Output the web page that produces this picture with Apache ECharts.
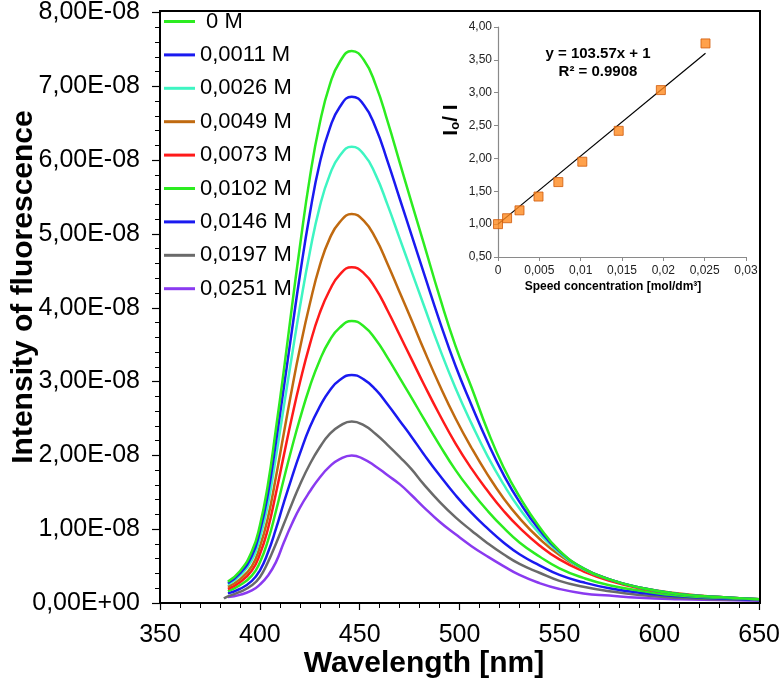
<!DOCTYPE html>
<html>
<head>
<meta charset="utf-8">
<script src="https://cdn.jsdelivr.net/npm/echarts@6/dist/echarts.min.js"></script>
<style>
html,body{margin:0;padding:0;background:#fff;}
#c{width:783px;height:693px;}
</style>
</head>
<body>
<div id="c"></div>
<script>
// ---- Main chart data (intensity in units of 1E-08) ----
const wavelengths = [382, 384, 390, 396, 400, 404, 408, 412, 416, 420, 425, 430, 435, 440, 446, 452, 458, 464, 470, 476, 482, 490, 498, 506, 514, 522, 530, 540, 550, 562, 575, 590, 610, 630, 650];
const seriesNames = [' 0 M', '0,0011 M', '0,0026 M', '0,0049 M', '0,0073 M', '0,0102 M', '0,0146 M', '0,0197 M', '0,0251 M'];
const seriesColors = ['#2cec20', '#1a1af0', '#3ef5c2', '#c06a10', '#ff1a1a', '#2cec20', '#1a1af0', '#6a6a6a', '#8a3af0'];
const c0000 = [null, 0.29, 0.43, 0.70, 1.05, 1.60, 2.35, 3.15, 4.00, 4.82, 5.76, 6.50, 7.02, 7.33, 7.48, 7.36, 7.02, 6.52, 5.97, 5.42, 4.88, 4.15, 3.48, 2.92, 2.34, 1.84, 1.44, 1.03, 0.71, 0.47, 0.32, 0.21, 0.12, 0.08, 0.05];
const c0011 = [null, 0.27, 0.40, 0.64, 0.97, 1.47, 2.17, 2.92, 3.68, 4.43, 5.27, 5.96, 6.43, 6.72, 6.86, 6.75, 6.44, 5.98, 5.48, 4.98, 4.48, 3.82, 3.21, 2.68, 2.18, 1.74, 1.37, 0.99, 0.70, 0.47, 0.32, 0.21, 0.12, 0.08, 0.05];
const c0026 = [null, 0.25, 0.37, 0.58, 0.88, 1.33, 1.97, 2.66, 3.34, 4.00, 4.75, 5.37, 5.80, 6.06, 6.18, 6.08, 5.80, 5.39, 4.94, 4.49, 4.04, 3.45, 2.91, 2.43, 1.99, 1.61, 1.28, 0.94, 0.68, 0.46, 0.32, 0.21, 0.12, 0.08, 0.05];
const c0049 = [null, 0.22, 0.32, 0.50, 0.76, 1.15, 1.70, 2.30, 2.89, 3.44, 4.05, 4.57, 4.94, 5.16, 5.27, 5.18, 4.94, 4.59, 4.21, 3.83, 3.44, 2.95, 2.50, 2.10, 1.74, 1.42, 1.15, 0.87, 0.65, 0.46, 0.32, 0.21, 0.13, 0.08, 0.05];
const c0073 = [null, 0.19, 0.28, 0.44, 0.66, 1.00, 1.48, 2.00, 2.51, 2.98, 3.50, 3.93, 4.24, 4.45, 4.55, 4.47, 4.26, 3.96, 3.63, 3.30, 2.97, 2.55, 2.16, 1.82, 1.52, 1.25, 1.02, 0.78, 0.59, 0.43, 0.30, 0.20, 0.12, 0.08, 0.05];
const c0102 = [null, 0.16, 0.24, 0.37, 0.55, 0.84, 1.24, 1.68, 2.10, 2.49, 2.93, 3.29, 3.56, 3.73, 3.82, 3.75, 3.57, 3.32, 3.05, 2.78, 2.50, 2.14, 1.80, 1.51, 1.25, 1.02, 0.82, 0.63, 0.47, 0.34, 0.24, 0.17, 0.10, 0.07, 0.05];
const c0146 = [null, 0.13, 0.19, 0.30, 0.44, 0.68, 1.00, 1.36, 1.70, 2.02, 2.38, 2.66, 2.88, 3.02, 3.09, 3.03, 2.89, 2.69, 2.47, 2.25, 2.02, 1.73, 1.46, 1.22, 1.01, 0.82, 0.66, 0.51, 0.38, 0.28, 0.20, 0.14, 0.09, 0.06, 0.04];
const c0197 = [0.06, 0.09, 0.15, 0.24, 0.35, 0.55, 0.80, 1.07, 1.34, 1.60, 1.88, 2.11, 2.29, 2.40, 2.46, 2.41, 2.29, 2.14, 1.98, 1.81, 1.61, 1.37, 1.16, 0.98, 0.81, 0.66, 0.53, 0.41, 0.30, 0.22, 0.16, 0.11, 0.07, 0.05, 0.04];
const c0251 = [null, 0.08, 0.11, 0.17, 0.25, 0.37, 0.55, 0.82, 1.07, 1.29, 1.51, 1.70, 1.85, 1.95, 2.00, 1.95, 1.85, 1.73, 1.61, 1.46, 1.30, 1.10, 0.93, 0.77, 0.63, 0.50, 0.38, 0.27, 0.19, 0.13, 0.10, 0.07, 0.05, 0.04, 0.03];
const curves = [c0000, c0011, c0026, c0049, c0073, c0102, c0146, c0197, c0251];

// ---- Inset data (Stern-Volmer) ----
const insetConc = [0, 0.0011, 0.0026, 0.0049, 0.0073, 0.0102, 0.0146, 0.0197, 0.0251];
const insetRatio = [1.00, 1.09, 1.21, 1.42, 1.64, 1.95, 2.42, 3.04, 3.75];
const trendConc = [0, 0.0251];
const trendRatio = [1.00, 3.60];

const FONT = 'Liberation Sans, Arial, sans-serif';
const chart = echarts.init(document.getElementById('c'), null, {renderer: 'canvas'});

const mainSeries = curves.map((arr, i) => ({
  name: seriesNames[i],
  type: 'line',
  xAxisIndex: 0, yAxisIndex: 0,
  data: wavelengths.map((w, k) => [w, arr[k]]),
  smooth: 0.5,
  showSymbol: false,
  symbol: 'none',
  lineStyle: {color: seriesColors[i], width: 2.5},
  itemStyle: {color: seriesColors[i]},
  z: 10 - i
}));

const option = {
  animation: false,
  backgroundColor: '#fff',
  grid: [
    {left: 160, top: 11, width: 600, height: 592},
    {left: 498, top: 27, width: 248, height: 230}
  ],
  legend: {
    left: 164, top: 10.5, orient: 'vertical', padding: 0,
    itemWidth: 31, itemHeight: 3, itemGap: 11.4, icon: 'rect',
    data: seriesNames,
    textStyle: {fontFamily: FONT, fontSize: 22, color: '#000', lineHeight: 22}
  },
  xAxis: [
    {
      type: 'value', gridIndex: 0, min: 350, max: 650, interval: 50,
      axisLine: {lineStyle: {color: '#000', width: 2}},
      axisTick: {show: true, inside: false, length: 7, lineStyle: {color: '#000', width: 1.2}},
      minorTick: {show: true, splitNumber: 5, length: 5, lineStyle: {color: '#000', width: 1}},
      splitLine: {show: false}, minorSplitLine: {show: false},
      axisLabel: {fontFamily: FONT, fontSize: 25, color: '#000', margin: 20}
    },
    {
      type: 'value', gridIndex: 1, min: 0, max: 0.03, interval: 0.005,
      axisLine: {lineStyle: {color: '#8a8a8a', width: 1.2}},
      axisTick: {show: true, length: 4, lineStyle: {color: '#8a8a8a'}},
      splitLine: {show: false},
      axisLabel: {fontFamily: FONT, fontSize: 12, color: '#222', margin: 8,
        formatter: v => v === 0 ? '0' : String(+v.toFixed(3)).replace('.', ',')}
    }
  ],
  yAxis: [
    {
      type: 'value', gridIndex: 0, min: 0, max: 8, interval: 1,
      axisLine: {show: true, lineStyle: {color: '#000', width: 2}},
      axisTick: {show: true, inside: false, length: 8, lineStyle: {color: '#000', width: 1.2}},
      minorTick: {show: true, splitNumber: 5, length: 5, lineStyle: {color: '#000', width: 1}},
      splitLine: {show: false}, minorSplitLine: {show: false},
      axisLabel: {fontFamily: FONT, fontSize: 25, color: '#000', margin: 20,
        formatter: v => v === 0 ? '0,00E+00' : v.toFixed(2).replace('.', ',') + 'E-08'}
    },
    {
      type: 'value', gridIndex: 1, min: 0.5, max: 4, interval: 0.5,
      axisLine: {show: true, lineStyle: {color: '#8a8a8a', width: 1.2}},
      axisTick: {show: true, length: 4, lineStyle: {color: '#8a8a8a'}},
      splitLine: {show: false},
      axisLabel: {fontFamily: FONT, fontSize: 12, color: '#222', margin: 6,
        formatter: v => v.toFixed(2).replace('.', ',')}
    }
  ],
  series: mainSeries.concat([
    {
      type: 'line', xAxisIndex: 1, yAxisIndex: 1,
      data: trendConc.map((c, k) => [c, trendRatio[k]]),
      symbol: 'none', lineStyle: {color: '#000', width: 1.2}, z: 20, silent: true
    },
    {
      type: 'scatter', xAxisIndex: 1, yAxisIndex: 1,
      data: insetConc.map((c, k) => [c, insetRatio[k]]),
      symbol: 'rect', symbolSize: 9,
      itemStyle: {color: '#ff8a1e', borderColor: '#d05a0a', borderWidth: 1},
      z: 21
    }
  ]),
  graphic: [
    {type: 'rect', shape: {x: 160, y: 11, width: 600, height: 592}, style: {fill: 'none', stroke: '#000', lineWidth: 2}, z: 50, silent: true},
    {type: 'text', x: 424, y: 664, style: {text: 'Wavelength [nm]', font: 'bold 30px ' + FONT, fill: '#000', textAlign: 'center', textVerticalAlign: 'middle'}},
    {type: 'text', x: 24, y: 287, rotation: Math.PI / 2, style: {text: 'Intensity of fluorescence', font: 'bold 30px ' + FONT, fill: '#000', textAlign: 'center', textVerticalAlign: 'middle'}},
    {type: 'text', x: 598, y: 54, style: {text: 'y = 103.57x + 1', font: 'bold 15px ' + FONT, fill: '#000', textAlign: 'center', textVerticalAlign: 'middle'}},
    {type: 'text', x: 598, y: 72, style: {text: 'R² = 0.9908', font: 'bold 15px ' + FONT, fill: '#000', textAlign: 'center', textVerticalAlign: 'middle'}},
    {type: 'text', x: 613, y: 287, style: {text: 'Speed concentration [mol/dm³]', font: 'bold 12px ' + FONT, fill: '#000', textAlign: 'center', textVerticalAlign: 'middle'}},
    {type: 'text', x: 451, y: 120, rotation: Math.PI / 2, style: {
      text: '{a|I}{s|o}{a|/ I}', textAlign: 'center', textVerticalAlign: 'middle',
      rich: {
        a: {font: 'bold 21px ' + FONT, fill: '#000', lineHeight: 22, verticalAlign: 'bottom'},
        s: {font: 'bold 13px ' + FONT, fill: '#000', lineHeight: 22, verticalAlign: 'bottom'}
      }
    }}
  ]
};
chart.setOption(option);
</script>
</body>
</html>
